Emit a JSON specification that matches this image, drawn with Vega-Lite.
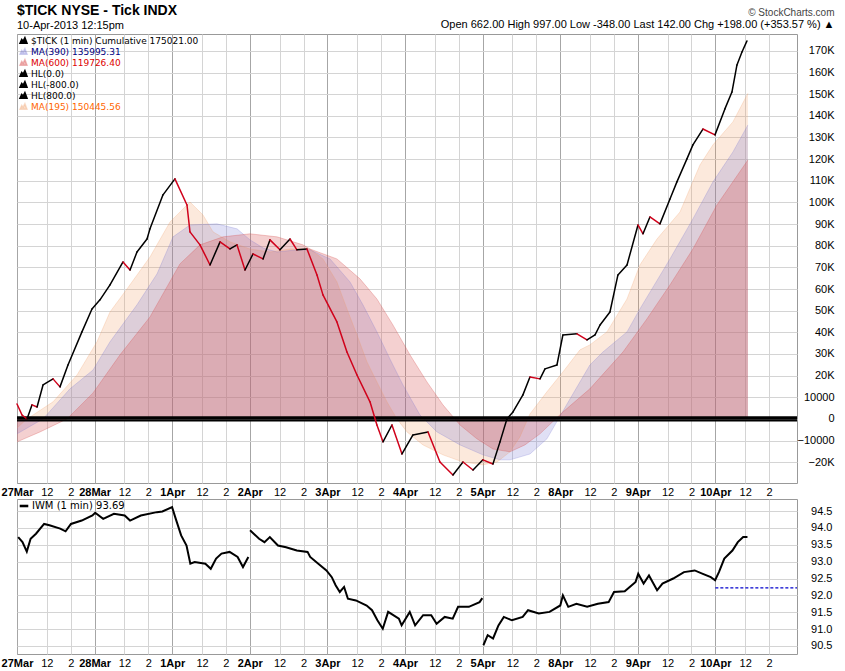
{
  "$schema": "https://vega.github.io/schema/vega-lite/v6.json",
  "background": "white",
  "padding": {"left": 0, "top": 3, "right": 4, "bottom": 0},
  "title": {
    "text": "© StockCharts.com",
    "subtitle": "Open 662.00  High 997.00  Low -348.00  Last 142.00  Chg +198.00 (+353.57 %) ▲",
    "anchor": "end",
    "offset": -26,
    "font": "Liberation Sans",
    "fontSize": 10,
    "fontWeight": "normal",
    "color": "#444444",
    "subtitleFont": "Liberation Sans",
    "subtitleFontSize": 11,
    "subtitleColor": "black",
    "subtitlePadding": 1
  },
  "config": {
    "font": "Liberation Sans",
    "view": {"stroke": "#999999"},
    "axis": {
      "domain": false,
      "ticks": false,
      "labelFont": "Liberation Sans",
      "labelFontSize": 11,
      "labelColor": "black",
      "gridColor": "#d4d4d4",
      "gridOpacity": 1
    },
    "legend": {"labelFont": "DejaVu Sans", "labelLimit": 400}
  },
  "datasets": {
    "tick": [
      {"t": 0, "v": 6900}, {"t": 0.42, "v": 1800}, {"t": 0.84, "v": 0}, {"t": 1.26, "v": 6500},
      {"t": 1.68, "v": 5500}, {"t": 2.18, "v": 15700}, {"t": 3.02, "v": 18500}, {"t": 3.6, "v": 14800},
      {"t": 4.27, "v": 24900}, {"t": 5.44, "v": 40200}, {"t": 6.28, "v": 50800}, {"t": 6.95, "v": 55000},
      {"t": 7.79, "v": 61900}, {"t": 8.88, "v": 72500}, {"t": 9.47, "v": 68800}, {"t": 10.05, "v": 77100},
      {"t": 10.89, "v": 83100}, {"t": 11.14, "v": 87800}, {"t": 12.23, "v": 103500}, {"t": 13.23, "v": 110900},
      {"t": 14.24, "v": 98800}, {"t": 14.49, "v": 86400}, {"t": 15.33, "v": 80400}, {"t": 16.17, "v": 71100},
      {"t": 17.01, "v": 81800}, {"t": 17.84, "v": 78500}, {"t": 18.43, "v": 80400}, {"t": 19.1, "v": 68800},
      {"t": 19.77, "v": 76200}, {"t": 20.61, "v": 73900}, {"t": 21.19, "v": 82700}, {"t": 22.03, "v": 78100},
      {"t": 22.87, "v": 83100}, {"t": 23.45, "v": 78100}, {"t": 24.29, "v": 78500}, {"t": 25.13, "v": 66500},
      {"t": 25.63, "v": 57300}, {"t": 26.8, "v": 44800}, {"t": 27.64, "v": 30900}, {"t": 28.48, "v": 20300},
      {"t": 29.57, "v": 7900}, {"t": 30.15, "v": -2800}, {"t": 30.66, "v": -10600}, {"t": 31.41, "v": -2800},
      {"t": 32.25, "v": -16200}, {"t": 33.17, "v": -7400}, {"t": 34.43, "v": -6000}, {"t": 35.43, "v": -19900},
      {"t": 36.52, "v": -25900}, {"t": 37.36, "v": -19900}, {"t": 38.2, "v": -23600}, {"t": 39.03, "v": -18900},
      {"t": 39.87, "v": -20800}, {"t": 40.46, "v": -10600}, {"t": 41.04, "v": 0}, {"t": 41.55, "v": 3200},
      {"t": 42.38, "v": 11100}, {"t": 42.97, "v": 19400}, {"t": 43.81, "v": 18500}, {"t": 44.23, "v": 23100},
      {"t": 45.23, "v": 24900}, {"t": 45.73, "v": 38800}, {"t": 46.91, "v": 39300}, {"t": 47.75, "v": 36500},
      {"t": 48.42, "v": 38800}, {"t": 48.84, "v": 43400}, {"t": 49.67, "v": 49400}, {"t": 50.34, "v": 66500},
      {"t": 51.1, "v": 71100}, {"t": 52.02, "v": 89600}, {"t": 52.44, "v": 85500}, {"t": 53.02, "v": 93300},
      {"t": 53.86, "v": 90100}, {"t": 54.7, "v": 101600}, {"t": 55.28, "v": 109500}, {"t": 56.12, "v": 120100},
      {"t": 56.62, "v": 126600}, {"t": 57.46, "v": 133900}, {"t": 58.47, "v": 131200}, {"t": 59.3, "v": 143200},
      {"t": 59.89, "v": 151000}, {"t": 60.31, "v": 163500}, {"t": 60.73, "v": 169500}, {"t": 61.15, "v": 174600}
    ],
    "ma": [
      {"s": "MA(195) 150445.56", "t": 0, "v": -4200}, {"s": "MA(195) 150445.56", "t": 0.84, "v": 0},
      {"s": "MA(195) 150445.56", "t": 3.02, "v": 7900}, {"s": "MA(195) 150445.56", "t": 5.03, "v": 20300},
      {"s": "MA(195) 150445.56", "t": 6.7, "v": 35600}, {"s": "MA(195) 150445.56", "t": 7.79, "v": 49400},
      {"s": "MA(195) 150445.56", "t": 9.21, "v": 60000}, {"s": "MA(195) 150445.56", "t": 11.14, "v": 74800},
      {"s": "MA(195) 150445.56", "t": 12.82, "v": 91000}, {"s": "MA(195) 150445.56", "t": 14.49, "v": 100200},
      {"s": "MA(195) 150445.56", "t": 15.58, "v": 94200}, {"s": "MA(195) 150445.56", "t": 16.42, "v": 86400},
      {"s": "MA(195) 150445.56", "t": 17.84, "v": 81800}, {"s": "MA(195) 150445.56", "t": 19.52, "v": 78500},
      {"s": "MA(195) 150445.56", "t": 21.19, "v": 77100}, {"s": "MA(195) 150445.56", "t": 22.87, "v": 78500},
      {"s": "MA(195) 150445.56", "t": 24.54, "v": 78500}, {"s": "MA(195) 150445.56", "t": 25.63, "v": 73900},
      {"s": "MA(195) 150445.56", "t": 26.8, "v": 63300}, {"s": "MA(195) 150445.56", "t": 27.64, "v": 50800},
      {"s": "MA(195) 150445.56", "t": 28.48, "v": 38800}, {"s": "MA(195) 150445.56", "t": 29.32, "v": 26300},
      {"s": "MA(195) 150445.56", "t": 30.15, "v": 17100}, {"s": "MA(195) 150445.56", "t": 30.99, "v": 7900},
      {"s": "MA(195) 150445.56", "t": 31.83, "v": 0}, {"s": "MA(195) 150445.56", "t": 32.67, "v": -6000},
      {"s": "MA(195) 150445.56", "t": 34.01, "v": -12000}, {"s": "MA(195) 150445.56", "t": 35.68, "v": -16600},
      {"s": "MA(195) 150445.56", "t": 37.36, "v": -19900}, {"s": "MA(195) 150445.56", "t": 39.03, "v": -21200},
      {"s": "MA(195) 150445.56", "t": 40.21, "v": -19900}, {"s": "MA(195) 150445.56", "t": 41.3, "v": -15200},
      {"s": "MA(195) 150445.56", "t": 42.13, "v": -8300}, {"s": "MA(195) 150445.56", "t": 42.97, "v": 2300},
      {"s": "MA(195) 150445.56", "t": 44.39, "v": 12500}, {"s": "MA(195) 150445.56", "t": 45.73, "v": 21700},
      {"s": "MA(195) 150445.56", "t": 47.16, "v": 31900}, {"s": "MA(195) 150445.56", "t": 47.99, "v": 34200},
      {"s": "MA(195) 150445.56", "t": 49.42, "v": 40200}, {"s": "MA(195) 150445.56", "t": 51.1, "v": 55400},
      {"s": "MA(195) 150445.56", "t": 52.18, "v": 71100}, {"s": "MA(195) 150445.56", "t": 53.61, "v": 83100},
      {"s": "MA(195) 150445.56", "t": 55.54, "v": 95600}, {"s": "MA(195) 150445.56", "t": 57.21, "v": 117300},
      {"s": "MA(195) 150445.56", "t": 58.3, "v": 126600}, {"s": "MA(195) 150445.56", "t": 59.97, "v": 137200},
      {"s": "MA(195) 150445.56", "t": 61.23, "v": 150400},

      {"s": "MA(390) 135995.31", "t": 0, "v": -6900}, {"s": "MA(390) 135995.31", "t": 2.18, "v": 0},
      {"s": "MA(390) 135995.31", "t": 4.44, "v": 13900}, {"s": "MA(390) 135995.31", "t": 6.37, "v": 22600},
      {"s": "MA(390) 135995.31", "t": 7.79, "v": 35600}, {"s": "MA(390) 135995.31", "t": 10.05, "v": 52700},
      {"s": "MA(390) 135995.31", "t": 11.73, "v": 67000}, {"s": "MA(390) 135995.31", "t": 13.07, "v": 84100},
      {"s": "MA(390) 135995.31", "t": 14.49, "v": 89600}, {"s": "MA(390) 135995.31", "t": 16.75, "v": 90100},
      {"s": "MA(390) 135995.31", "t": 18.43, "v": 87800}, {"s": "MA(390) 135995.31", "t": 19.52, "v": 82700},
      {"s": "MA(390) 135995.31", "t": 20.61, "v": 79000}, {"s": "MA(390) 135995.31", "t": 21.78, "v": 77100},
      {"s": "MA(390) 135995.31", "t": 23.45, "v": 78100}, {"s": "MA(390) 135995.31", "t": 24.54, "v": 78100},
      {"s": "MA(390) 135995.31", "t": 26.22, "v": 73900}, {"s": "MA(390) 135995.31", "t": 27.89, "v": 63300},
      {"s": "MA(390) 135995.31", "t": 28.98, "v": 52700}, {"s": "MA(390) 135995.31", "t": 30.15, "v": 40200},
      {"s": "MA(390) 135995.31", "t": 31.24, "v": 27700}, {"s": "MA(390) 135995.31", "t": 32.33, "v": 15700},
      {"s": "MA(390) 135995.31", "t": 33.76, "v": 1800}, {"s": "MA(390) 135995.31", "t": 35.18, "v": -6000},
      {"s": "MA(390) 135995.31", "t": 37.11, "v": -12000}, {"s": "MA(390) 135995.31", "t": 39.03, "v": -16600},
      {"s": "MA(390) 135995.31", "t": 40.46, "v": -18900}, {"s": "MA(390) 135995.31", "t": 41.3, "v": -18900},
      {"s": "MA(390) 135995.31", "t": 42.97, "v": -16200}, {"s": "MA(390) 135995.31", "t": 44.39, "v": -9200},
      {"s": "MA(390) 135995.31", "t": 46.32, "v": 9200}, {"s": "MA(390) 135995.31", "t": 47.99, "v": 24900},
      {"s": "MA(390) 135995.31", "t": 49.08, "v": 30900}, {"s": "MA(390) 135995.31", "t": 51.1, "v": 40200},
      {"s": "MA(390) 135995.31", "t": 52.18, "v": 50800}, {"s": "MA(390) 135995.31", "t": 54.7, "v": 73900},
      {"s": "MA(390) 135995.31", "t": 56.62, "v": 92400}, {"s": "MA(390) 135995.31", "t": 58.3, "v": 109500},
      {"s": "MA(390) 135995.31", "t": 59.97, "v": 123300}, {"s": "MA(390) 135995.31", "t": 61.23, "v": 135800},

      {"s": "MA(600) 119726.40", "t": 0, "v": -10600}, {"s": "MA(600) 119726.40", "t": 1.93, "v": -6000},
      {"s": "MA(600) 119726.40", "t": 4.19, "v": 0}, {"s": "MA(600) 119726.40", "t": 6.37, "v": 12000},
      {"s": "MA(600) 119726.40", "t": 8.63, "v": 29600}, {"s": "MA(600) 119726.40", "t": 11.14, "v": 47100},
      {"s": "MA(600) 119726.40", "t": 13.65, "v": 71600}, {"s": "MA(600) 119726.40", "t": 15.33, "v": 80400},
      {"s": "MA(600) 119726.40", "t": 17.26, "v": 84100}, {"s": "MA(600) 119726.40", "t": 19.52, "v": 85500},
      {"s": "MA(600) 119726.40", "t": 21.78, "v": 84100}, {"s": "MA(600) 119726.40", "t": 23.96, "v": 80400},
      {"s": "MA(600) 119726.40", "t": 24.54, "v": 78500}, {"s": "MA(600) 119726.40", "t": 26.8, "v": 73900},
      {"s": "MA(600) 119726.40", "t": 28.73, "v": 64700}, {"s": "MA(600) 119726.40", "t": 30.15, "v": 55400},
      {"s": "MA(600) 119726.40", "t": 31.49, "v": 43400}, {"s": "MA(600) 119726.40", "t": 32.92, "v": 29600},
      {"s": "MA(600) 119726.40", "t": 34.34, "v": 17100}, {"s": "MA(600) 119726.40", "t": 35.68, "v": 6500},
      {"s": "MA(600) 119726.40", "t": 37.11, "v": -2800}, {"s": "MA(600) 119726.40", "t": 38.53, "v": -9200},
      {"s": "MA(600) 119726.40", "t": 39.87, "v": -13900}, {"s": "MA(600) 119726.40", "t": 41.3, "v": -15200},
      {"s": "MA(600) 119726.40", "t": 42.55, "v": -12000}, {"s": "MA(600) 119726.40", "t": 43.81, "v": -6900},
      {"s": "MA(600) 119726.40", "t": 45.73, "v": 3200}, {"s": "MA(600) 119726.40", "t": 47.99, "v": 13900},
      {"s": "MA(600) 119726.40", "t": 50.76, "v": 30900}, {"s": "MA(600) 119726.40", "t": 52.77, "v": 46200},
      {"s": "MA(600) 119726.40", "t": 54.7, "v": 61900}, {"s": "MA(600) 119726.40", "t": 56.62, "v": 78500},
      {"s": "MA(600) 119726.40", "t": 58.63, "v": 98800}, {"s": "MA(600) 119726.40", "t": 61.23, "v": 119600}
    ],
    "hl": [{"v": -800, "t": 0, "t2": 65.34}, {"v": 0, "t": 0, "t2": 65.34}, {"v": 800, "t": 0, "t2": 65.34}],
    "iwm": [
      {"seg": "a", "t": 0.1, "p": 93.73}, {"seg": "a", "t": 0.46, "p": 93.58}, {"seg": "a", "t": 0.82, "p": 93.3},
      {"seg": "a", "t": 1.14, "p": 93.68}, {"seg": "a", "t": 1.59, "p": 93.83}, {"seg": "a", "t": 2.27, "p": 94.12},
      {"seg": "a", "t": 2.72, "p": 94.08}, {"seg": "a", "t": 3.62, "p": 93.98}, {"seg": "a", "t": 4.07, "p": 93.9},
      {"seg": "a", "t": 4.52, "p": 94.12}, {"seg": "a", "t": 5.42, "p": 94.22}, {"seg": "a", "t": 6.32, "p": 94.37},
      {"seg": "a", "t": 6.55, "p": 94.45}, {"seg": "a", "t": 7.22, "p": 94.27}, {"seg": "a", "t": 8.12, "p": 94.42},
      {"seg": "a", "t": 9.02, "p": 94.37}, {"seg": "a", "t": 9.47, "p": 94.22}, {"seg": "a", "t": 10.37, "p": 94.37},
      {"seg": "a", "t": 11.72, "p": 94.47}, {"seg": "a", "t": 12.18, "p": 94.49}, {"seg": "a", "t": 12.99, "p": 94.62},
      {"seg": "a", "t": 13.3, "p": 94.27}, {"seg": "a", "t": 13.75, "p": 93.78}, {"seg": "a", "t": 14.2, "p": 93.48},
      {"seg": "a", "t": 14.52, "p": 92.94}, {"seg": "a", "t": 14.88, "p": 92.99}, {"seg": "a", "t": 15.78, "p": 92.94},
      {"seg": "a", "t": 16.23, "p": 92.79}, {"seg": "a", "t": 16.68, "p": 93.09}, {"seg": "a", "t": 17.13, "p": 93.24},
      {"seg": "a", "t": 17.81, "p": 93.29}, {"seg": "a", "t": 18.48, "p": 93.14}, {"seg": "a", "t": 18.93, "p": 92.84},
      {"seg": "a", "t": 19.38, "p": 93.14},
      {"seg": "b", "t": 19.52, "p": 93.93}, {"seg": "b", "t": 19.83, "p": 93.83}, {"seg": "b", "t": 20.28, "p": 93.68},
      {"seg": "b", "t": 20.73, "p": 93.58}, {"seg": "b", "t": 21.18, "p": 93.73}, {"seg": "b", "t": 21.86, "p": 93.48},
      {"seg": "b", "t": 22.54, "p": 93.43}, {"seg": "b", "t": 23.44, "p": 93.33}, {"seg": "b", "t": 24.34, "p": 93.29},
      {"seg": "b", "t": 24.56, "p": 93.14}, {"seg": "b", "t": 25.24, "p": 92.94}, {"seg": "b", "t": 25.92, "p": 92.74},
      {"seg": "b", "t": 26.37, "p": 92.54}, {"seg": "b", "t": 26.69, "p": 92.3}, {"seg": "b", "t": 27.04, "p": 92.1},
      {"seg": "b", "t": 27.4, "p": 92.25}, {"seg": "b", "t": 27.72, "p": 91.9}, {"seg": "b", "t": 28.39, "p": 91.85},
      {"seg": "b", "t": 29.29, "p": 91.7}, {"seg": "b", "t": 29.74, "p": 91.56}, {"seg": "b", "t": 30.19, "p": 91.26},
      {"seg": "b", "t": 30.64, "p": 91.01}, {"seg": "b", "t": 31.09, "p": 91.51}, {"seg": "b", "t": 31.99, "p": 91.31},
      {"seg": "b", "t": 32.22, "p": 91.11}, {"seg": "b", "t": 32.9, "p": 91.51}, {"seg": "b", "t": 33.35, "p": 91.11},
      {"seg": "b", "t": 34.02, "p": 91.41}, {"seg": "b", "t": 34.7, "p": 91.41}, {"seg": "b", "t": 35.15, "p": 91.16},
      {"seg": "b", "t": 35.83, "p": 91.36}, {"seg": "b", "t": 36.5, "p": 91.31}, {"seg": "b", "t": 36.95, "p": 91.66},
      {"seg": "b", "t": 37.85, "p": 91.66}, {"seg": "b", "t": 38.75, "p": 91.8}, {"seg": "b", "t": 38.98, "p": 91.92},
      {"seg": "c", "t": 39.07, "p": 90.52}, {"seg": "c", "t": 39.43, "p": 90.82}, {"seg": "c", "t": 39.88, "p": 90.72},
      {"seg": "c", "t": 40.33, "p": 91.11}, {"seg": "c", "t": 40.78, "p": 91.36}, {"seg": "c", "t": 41.46, "p": 91.26},
      {"seg": "c", "t": 42.36, "p": 91.36}, {"seg": "c", "t": 42.81, "p": 91.56}, {"seg": "c", "t": 43.71, "p": 91.46},
      {"seg": "c", "t": 44.61, "p": 91.51}, {"seg": "c", "t": 45.51, "p": 91.7}, {"seg": "c", "t": 45.73, "p": 92.0},
      {"seg": "c", "t": 46.18, "p": 91.66}, {"seg": "c", "t": 46.86, "p": 91.75}, {"seg": "c", "t": 47.76, "p": 91.66},
      {"seg": "c", "t": 48.66, "p": 91.75}, {"seg": "c", "t": 49.56, "p": 91.8}, {"seg": "c", "t": 50.01, "p": 92.1},
      {"seg": "c", "t": 50.91, "p": 92.12}, {"seg": "c", "t": 51.82, "p": 92.4}, {"seg": "c", "t": 52.04, "p": 92.64},
      {"seg": "c", "t": 52.49, "p": 92.35}, {"seg": "c", "t": 52.94, "p": 92.59}, {"seg": "c", "t": 53.62, "p": 92.15},
      {"seg": "c", "t": 54.07, "p": 92.35}, {"seg": "c", "t": 54.97, "p": 92.5}, {"seg": "c", "t": 55.87, "p": 92.69},
      {"seg": "c", "t": 56.77, "p": 92.74}, {"seg": "c", "t": 57.45, "p": 92.64}, {"seg": "c", "t": 58.12, "p": 92.54},
      {"seg": "c", "t": 58.48, "p": 92.45}, {"seg": "c", "t": 58.8, "p": 92.69}, {"seg": "c", "t": 59.25, "p": 93.09},
      {"seg": "c", "t": 59.93, "p": 93.33}, {"seg": "c", "t": 60.38, "p": 93.58}, {"seg": "c", "t": 60.83, "p": 93.73},
      {"seg": "c", "t": 61.19, "p": 93.73}
    ],
    "prevclose": [{"t": 58.5, "t2": 65.34, "p": 92.22}]
  },
  "spacing": 0,
  "resolve": {"scale": {"color": "independent", "y": "independent"}, "legend": {"color": "independent"}},
  "vconcat": [
    {
      "width": 780,
      "height": 449,
      "title": {
        "text": "$TICK NYSE - Tick INDX",
        "subtitle": "10-Apr-2013 12:15pm",
        "anchor": "start",
        "frame": "group",
        "offset": 3,
        "font": "Liberation Sans",
        "fontSize": 14,
        "fontWeight": "bold",
        "color": "black",
        "subtitleFont": "Liberation Sans",
        "subtitleFontSize": 11,
        "subtitleColor": "black",
        "subtitlePadding": 2
      },
      "encoding": {
        "x": {
          "field": "t", "type": "quantitative", "title": null,
          "scale": {"domain": [0, 65.34], "nice": false, "zero": false},
          "axis": {
            "values": [0, 2.5, 4.5, 6.5, 9, 11, 13, 15.5, 17.5, 19.5, 22, 24, 26, 28.5, 30.5, 32.5, 35, 37, 39, 41.5, 43.5, 45.5, 48, 50, 52, 54.5, 56.5, 58.5, 61, 63],
            "labelExpr": "datum.value % 6.5 == 0 ? ['27Mar','28Mar','1Apr','2Apr','3Apr','4Apr','5Apr','8Apr','9Apr','10Apr'][round(datum.value / 6.5)] : (datum.value % 6.5 == 2.5 ? '12' : '2')",
            "labelFontWeight": {"condition": {"test": "datum.value % 6.5 == 0", "value": "bold"}, "value": "normal"},
            "gridColor": {"condition": {"test": "datum.value % 6.5 == 0", "value": "#a6a6a6"}, "value": "#d4d4d4"},
            "labelPadding": 3,
            "labelFlush": false,
            "labelOverlap": false
          }
        },
        "y": {
          "field": "v", "type": "quantitative", "title": null,
          "scale": {"domain": [-29600, 177800], "nice": false, "zero": false},
          "axis": {
            "orient": "right",
            "values": [-20000, -10000, 0, 10000, 20000, 30000, 40000, 50000, 60000, 70000, 80000, 90000, 100000, 110000, 120000, 130000, 140000, 150000, 160000, 170000],
            "labelExpr": "abs(datum.value) >= 20000 ? format(datum.value / 1000, 'd') + 'K' : format(datum.value, 'd')",
            "labelAlign": "right",
            "labelPadding": 37,
            "labelOverlap": false
          }
        }
      },
      "layer": [
        {
          "data": {"name": "ma"},
          "mark": {"type": "area", "line": {"strokeWidth": 0.8}},
          "encoding": {
            "y2": {"datum": 0},
            "color": {
              "field": "s", "type": "nominal",
              "scale": {
                "domain": ["$TICK (1 min) Cumulative 175021.00", "MA(390) 135995.31", "MA(600) 119726.40", "HL(0.0)", "HL(-800.0)", "HL(800.0)", "MA(195) 150445.56"],
                "range": ["black", "rgba(110,110,210,0.3)", "rgba(215,80,80,0.38)", "black", "black", "black", "rgba(240,150,90,0.3)"]
              },
              "legend": {
                "title": null,
                "orient": "top-left",
                "offset": 2,
                "rowPadding": -2,
                "labelFontSize": 9,
                "labelColor": {"expr": "datum.value == 'MA(390) 135995.31' ? '#000080' : datum.value == 'MA(600) 119726.40' ? '#dd0000' : datum.value == 'MA(195) 150445.56' ? '#ff6600' : 'black'"},
                "symbolType": "M-1,0.8L-0.5,-0.3L-0.1,0.2L0.4,-0.8L1,0.8Z",
                "symbolSize": 50,
                "symbolOpacity": 1,
                "labelOffset": 3
              }
            }
          }
        },
        {
          "data": {"name": "hl"},
          "mark": {"type": "rule", "color": "black", "strokeWidth": 1.8},
          "encoding": {
            "x2": {"field": "t2"}
          }
        },
        {
          "data": {"name": "tick"},
          "transform": [
            {"window": [{"op": "lead", "field": "t", "as": "t2"}, {"op": "lead", "field": "v", "as": "v2"}], "sort": [{"field": "t"}]},
            {"filter": "datum.t2 != null"}
          ],
          "mark": {"type": "rule", "strokeWidth": 1.5, "strokeCap": "round"},
          "encoding": {
            "x2": {"field": "t2"},
            "y2": {"field": "v2"},
            "color": {"condition": {"test": "datum.v2 < datum.v", "value": "#d0021b"}, "value": "black"}
          }
        }
      ]
    },
    {
      "width": 780,
      "height": 155,
      "encoding": {
        "x": {
          "field": "t", "type": "quantitative", "title": null,
          "scale": {"domain": [0, 65.34], "nice": false, "zero": false},
          "axis": {
            "values": [0, 2.5, 4.5, 6.5, 9, 11, 13, 15.5, 17.5, 19.5, 22, 24, 26, 28.5, 30.5, 32.5, 35, 37, 39, 41.5, 43.5, 45.5, 48, 50, 52, 54.5, 56.5, 58.5, 61, 63],
            "labelExpr": "datum.value % 6.5 == 0 ? ['27Mar','28Mar','1Apr','2Apr','3Apr','4Apr','5Apr','8Apr','9Apr','10Apr'][round(datum.value / 6.5)] : (datum.value % 6.5 == 2.5 ? '12' : '2')",
            "labelFontWeight": {"condition": {"test": "datum.value % 6.5 == 0", "value": "bold"}, "value": "normal"},
            "gridColor": {"condition": {"test": "datum.value % 6.5 == 0", "value": "#a6a6a6"}, "value": "#d4d4d4"},
            "labelPadding": 3,
            "labelFlush": false,
            "labelOverlap": false
          }
        },
        "y": {
          "field": "p", "type": "quantitative", "title": null,
          "scale": {"domain": [90.26, 94.86], "nice": false, "zero": false},
          "axis": {
            "orient": "right",
            "values": [90.5, 91, 91.5, 92, 92.5, 93, 93.5, 94, 94.5],
            "format": ".1f",
            "labelAlign": "right",
            "labelPadding": 35,
            "labelOverlap": false
          }
        }
      },
      "layer": [
        {
          "data": {"name": "iwm"},
          "mark": {"type": "line", "strokeWidth": 2, "strokeJoin": "miter"},
          "encoding": {
            "detail": {"field": "seg"},
            "color": {
              "datum": "IWM (1 min) 93.69",
              "type": "nominal",
              "scale": {"range": ["black"]},
              "legend": {
                "title": null,
                "orient": "top-left",
                "offset": 2,
                "labelFontSize": 10,
                "symbolType": "M-1,-0.15H1V0.15H-1Z",
                "symbolSize": 50,
                "labelOffset": 3
              }
            }
          }
        },
        {
          "data": {"name": "prevclose"},
          "mark": {"type": "rule", "color": "#0000cc", "strokeWidth": 1.2, "strokeDash": [3, 2]},
          "encoding": {
            "x2": {"field": "t2"}
          }
        }
      ]
    }
  ]
}
